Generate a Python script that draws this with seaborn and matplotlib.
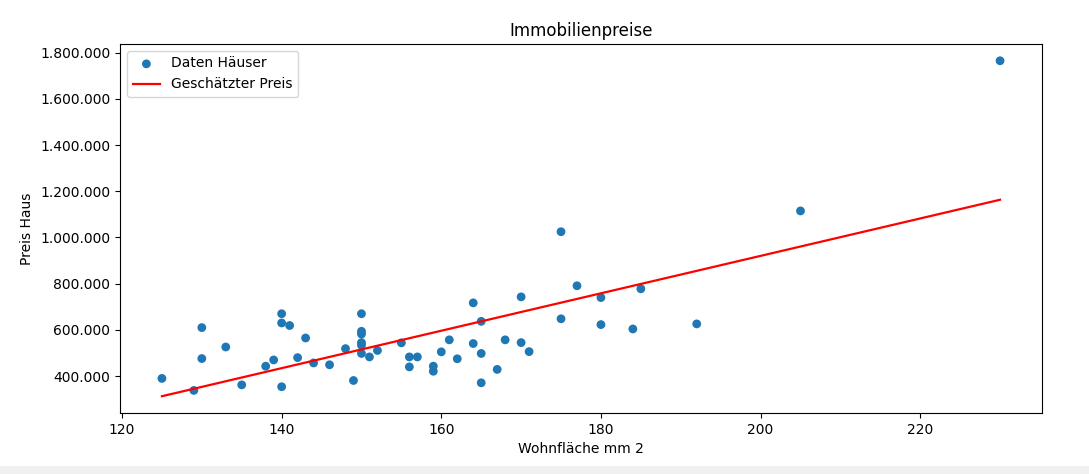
import numpy as np
import pandas as pd
import matplotlib
matplotlib.use("Agg")
import matplotlib.pyplot as plt
import matplotlib.ticker as mticker
from matplotlib.patches import Rectangle
import seaborn as sns

# Wohnfläche (x) und Preis (y)
wohnflaeche = [125, 129, 130, 130, 133, 135, 138, 139, 140, 140, 140, 141, 142, 143, 144,
               146, 148, 149, 150, 150, 150, 150, 150, 150, 151, 152, 155, 156, 156, 157,
               159, 159, 160, 161, 162, 164, 164, 165, 165, 165, 167, 168, 170, 170, 171,
               175, 175, 177, 180, 180, 184, 185, 192, 205, 230]
preis = [390000, 338000, 610000, 476000, 526000, 362000, 443000, 470000, 670000, 630000,
         354000, 619000, 480000, 565000, 457000, 449000, 519000, 381000, 670000, 594000,
         582000, 545000, 534000, 498000, 483000, 511000, 544000, 483000, 440000, 483000,
         443000, 421000, 505000, 557000, 475000, 717000, 541000, 637000, 498000, 371000,
         429000, 557000, 743000, 545000, 506000, 1025000, 648000, 791000, 740000, 623000,
         604000, 778000, 626000, 1115000, 1765000]

df = pd.DataFrame({"wohnflaeche": wohnflaeche, "preis": preis})

# einfache lineare Regression
slope, intercept = np.polyfit(df["wohnflaeche"], df["preis"], 1)
df["geschaetzt"] = intercept + slope * df["wohnflaeche"]

fig = plt.figure(figsize=(10.89, 4.74), dpi=100)
ax = fig.add_axes([0.1102, 0.1287, 0.8466, 0.7785])

sns.scatterplot(data=df, x="wohnflaeche", y="preis", ax=ax, color="#1f77b4",
                s=40, edgecolor="none", label="Daten Häuser")
sns.lineplot(data=df, x="wohnflaeche", y="geschaetzt", ax=ax, color="red",
             linewidth=1.6, estimator=None, label="Geschätzter Preis")

ax.yaxis.set_major_formatter(mticker.FuncFormatter(lambda v, p: f"{v:,.0f}".replace(",", ".")))
ax.set_title("Immobilienpreise")
ax.set_xlabel("Wohnfläche mm 2")
ax.set_ylabel("Preis Haus")
ax.legend(loc="upper left")

# grauer Streifen unten (Screenshot-Rand)
fig.patches.append(Rectangle((0, 0), 1, 8 / 474, transform=fig.transFigure,
                             facecolor="#f0f0f0", edgecolor="none", zorder=-1))

fig.savefig("out.png", dpi=100)
